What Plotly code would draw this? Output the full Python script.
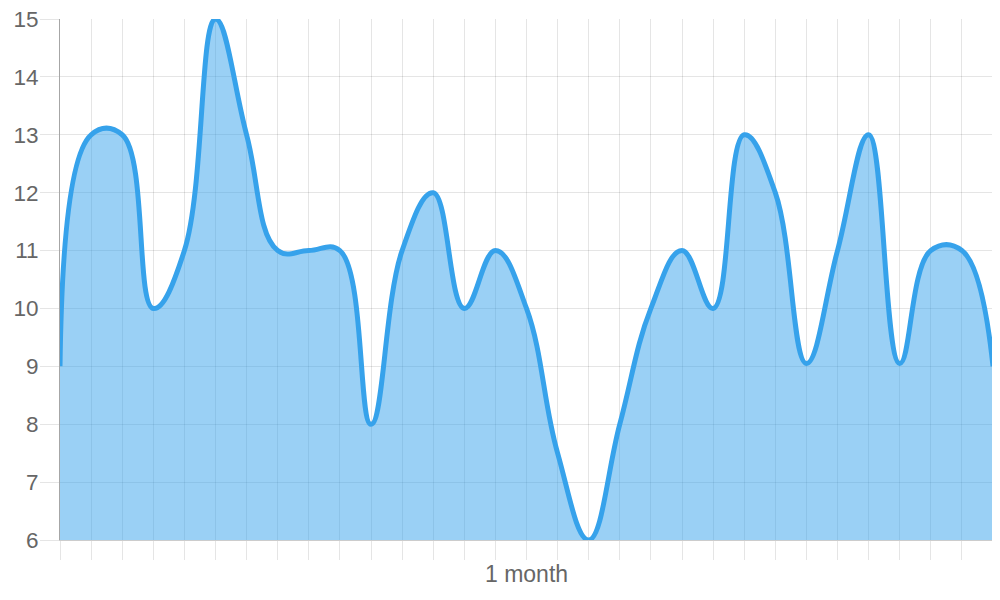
import plotly.graph_objects as go

days = list(range(31))
values = [9, 13, 13, 10, 11, 15, 13, 11, 11, 11, 8, 11, 12, 10, 11, 10, 7.5, 6,
          8, 10, 11, 10, 13, 12, 9.05, 11, 13, 9.05, 11, 11, 9]
y_ticks = [6, 7, 8, 9, 10, 11, 12, 13, 14, 15]
x_label = "1 month"

fig = go.Figure()
fig.add_trace(go.Scatter(
    x=days, y=values, mode="lines",
    line=dict(color="rgb(54,162,235)", width=5, shape="spline", smoothing=1.2),
    fill="tozeroy", fillcolor="rgba(54,162,235,0.5)",
    hoverinfo="skip", cliponaxis=False,
))

grid = "rgba(0,0,0,0.1)"
fig.update_layout(
    width=992, height=592,
    margin=dict(l=52, r=7, t=11, b=60, autoexpand=False),
    paper_bgcolor="white", plot_bgcolor="white",
    showlegend=False,
    font=dict(family="Liberation Sans, Arial, sans-serif", size=22, color="#666"),
)
ticktext = [""] * len(days)
ticktext[15] = x_label
fig.update_xaxes(
    range=[0, 30], tickvals=days, ticktext=ticktext,
    showgrid=True, gridcolor=grid, gridwidth=1,
    ticks="outside", ticklen=19, tickcolor=grid, tickwidth=1,
    showline=True, linecolor="rgba(0,0,0,0.2)", linewidth=1,
    zeroline=False, tickfont=dict(size=23, color="#666"), automargin=False,
    ticklabelstandoff=-6, ticklabeloverflow="allow",
)
fig.update_yaxes(
    range=[6, 15], tickvals=y_ticks,
    showgrid=True, gridcolor=grid, gridwidth=1,
    ticks="outside", ticklen=19, tickcolor=grid, tickwidth=1,
    showline=True, linecolor="rgba(0,0,0,0.35)", linewidth=1,
    zeroline=False, tickfont=dict(size=22.5, color="#666"), automargin=False,
    ticklabelstandoff=-3, ticklabeloverflow="allow",
)
fig.write_html("out.html")
